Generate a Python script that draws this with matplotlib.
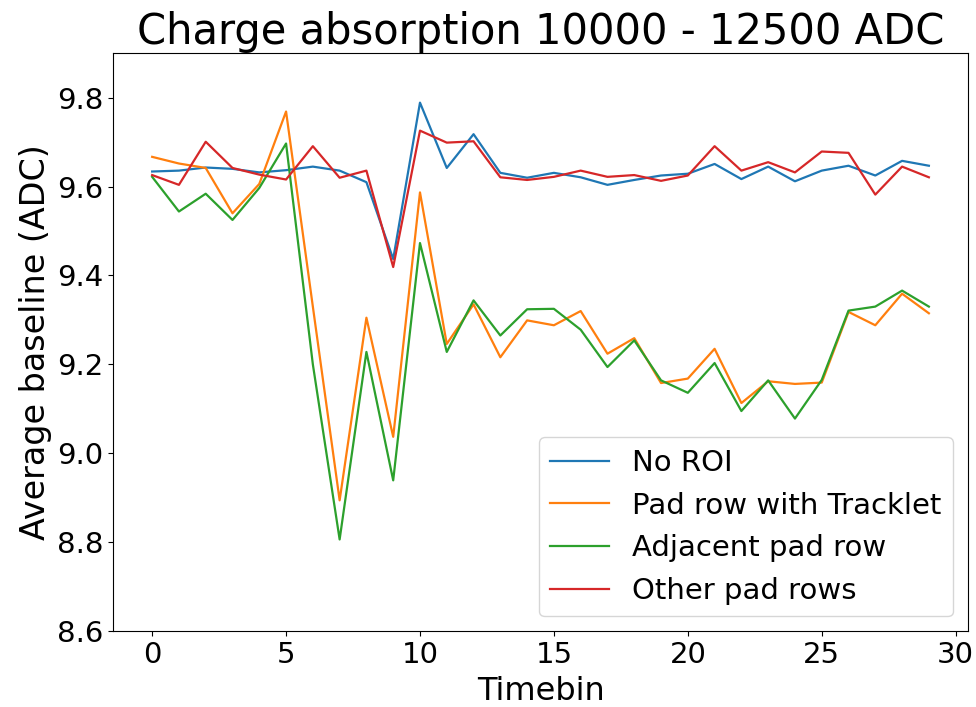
import matplotlib
matplotlib.use("Agg")
import matplotlib.pyplot as plt
import numpy as np

timebins = list(range(30))

no_roi = [9.634, 9.636, 9.643, 9.640, 9.632, 9.637, 9.645, 9.636, 9.610, 9.437,
          9.789, 9.642, 9.718, 9.631, 9.620, 9.631, 9.621, 9.604, 9.615, 9.625,
          9.629, 9.651, 9.617, 9.645, 9.612, 9.636, 9.647, 9.625, 9.658, 9.647]

pad_row_tracklet = [9.667, 9.652, 9.642, 9.540, 9.606, 9.769, 9.330, 8.894, 9.305, 9.037,
                    9.587, 9.246, 9.335, 9.216, 9.299, 9.288, 9.320, 9.224, 9.259, 9.158,
                    9.168, 9.235, 9.113, 9.162, 9.156, 9.159, 9.318, 9.288, 9.359, 9.315]

adjacent_pad_row = [9.622, 9.544, 9.584, 9.525, 9.597, 9.697, 9.200, 8.806, 9.228, 8.939,
                    9.473, 9.228, 9.344, 9.265, 9.324, 9.325, 9.278, 9.194, 9.254, 9.164,
                    9.136, 9.203, 9.095, 9.164, 9.078, 9.165, 9.321, 9.330, 9.366, 9.330]

other_pad_rows = [9.626, 9.604, 9.701, 9.642, 9.627, 9.616, 9.691, 9.620, 9.636, 9.419,
                  9.726, 9.699, 9.702, 9.621, 9.615, 9.622, 9.636, 9.622, 9.626, 9.613,
                  9.625, 9.691, 9.636, 9.655, 9.632, 9.679, 9.676, 9.582, 9.645, 9.621]

series_labels = ["No ROI", "Pad row with Tracklet", "Adjacent pad row", "Other pad rows"]

fig = plt.figure(figsize=(9.76, 7.07), dpi=100)
ax = fig.add_axes([0.1161, 0.1075, 0.8754, 0.8171])

for values, label, color in zip(
        [no_roi, pad_row_tracklet, adjacent_pad_row, other_pad_rows],
        series_labels,
        ["tab:blue", "tab:orange", "tab:green", "tab:red"]):
    ax.plot(timebins, values, label=label, color=color, lw=1.6)

ax.set_ylim(8.6, 9.9)
ax.set_yticks([8.6, 8.8, 9.0, 9.2, 9.4, 9.6, 9.8])
ax.set_xticks([0, 5, 10, 15, 20, 25, 30])
ax.tick_params(labelsize=21)
ax.set_xlabel("Timebin", fontsize=23, labelpad=5)
ax.set_ylabel("Average baseline (ADC)", fontsize=24)
ax.set_title("Charge absorption 10000 - 12500 ADC", fontsize=30)
ax.legend(loc="lower right", fontsize=21)

fig.savefig("out.png", dpi=100)
